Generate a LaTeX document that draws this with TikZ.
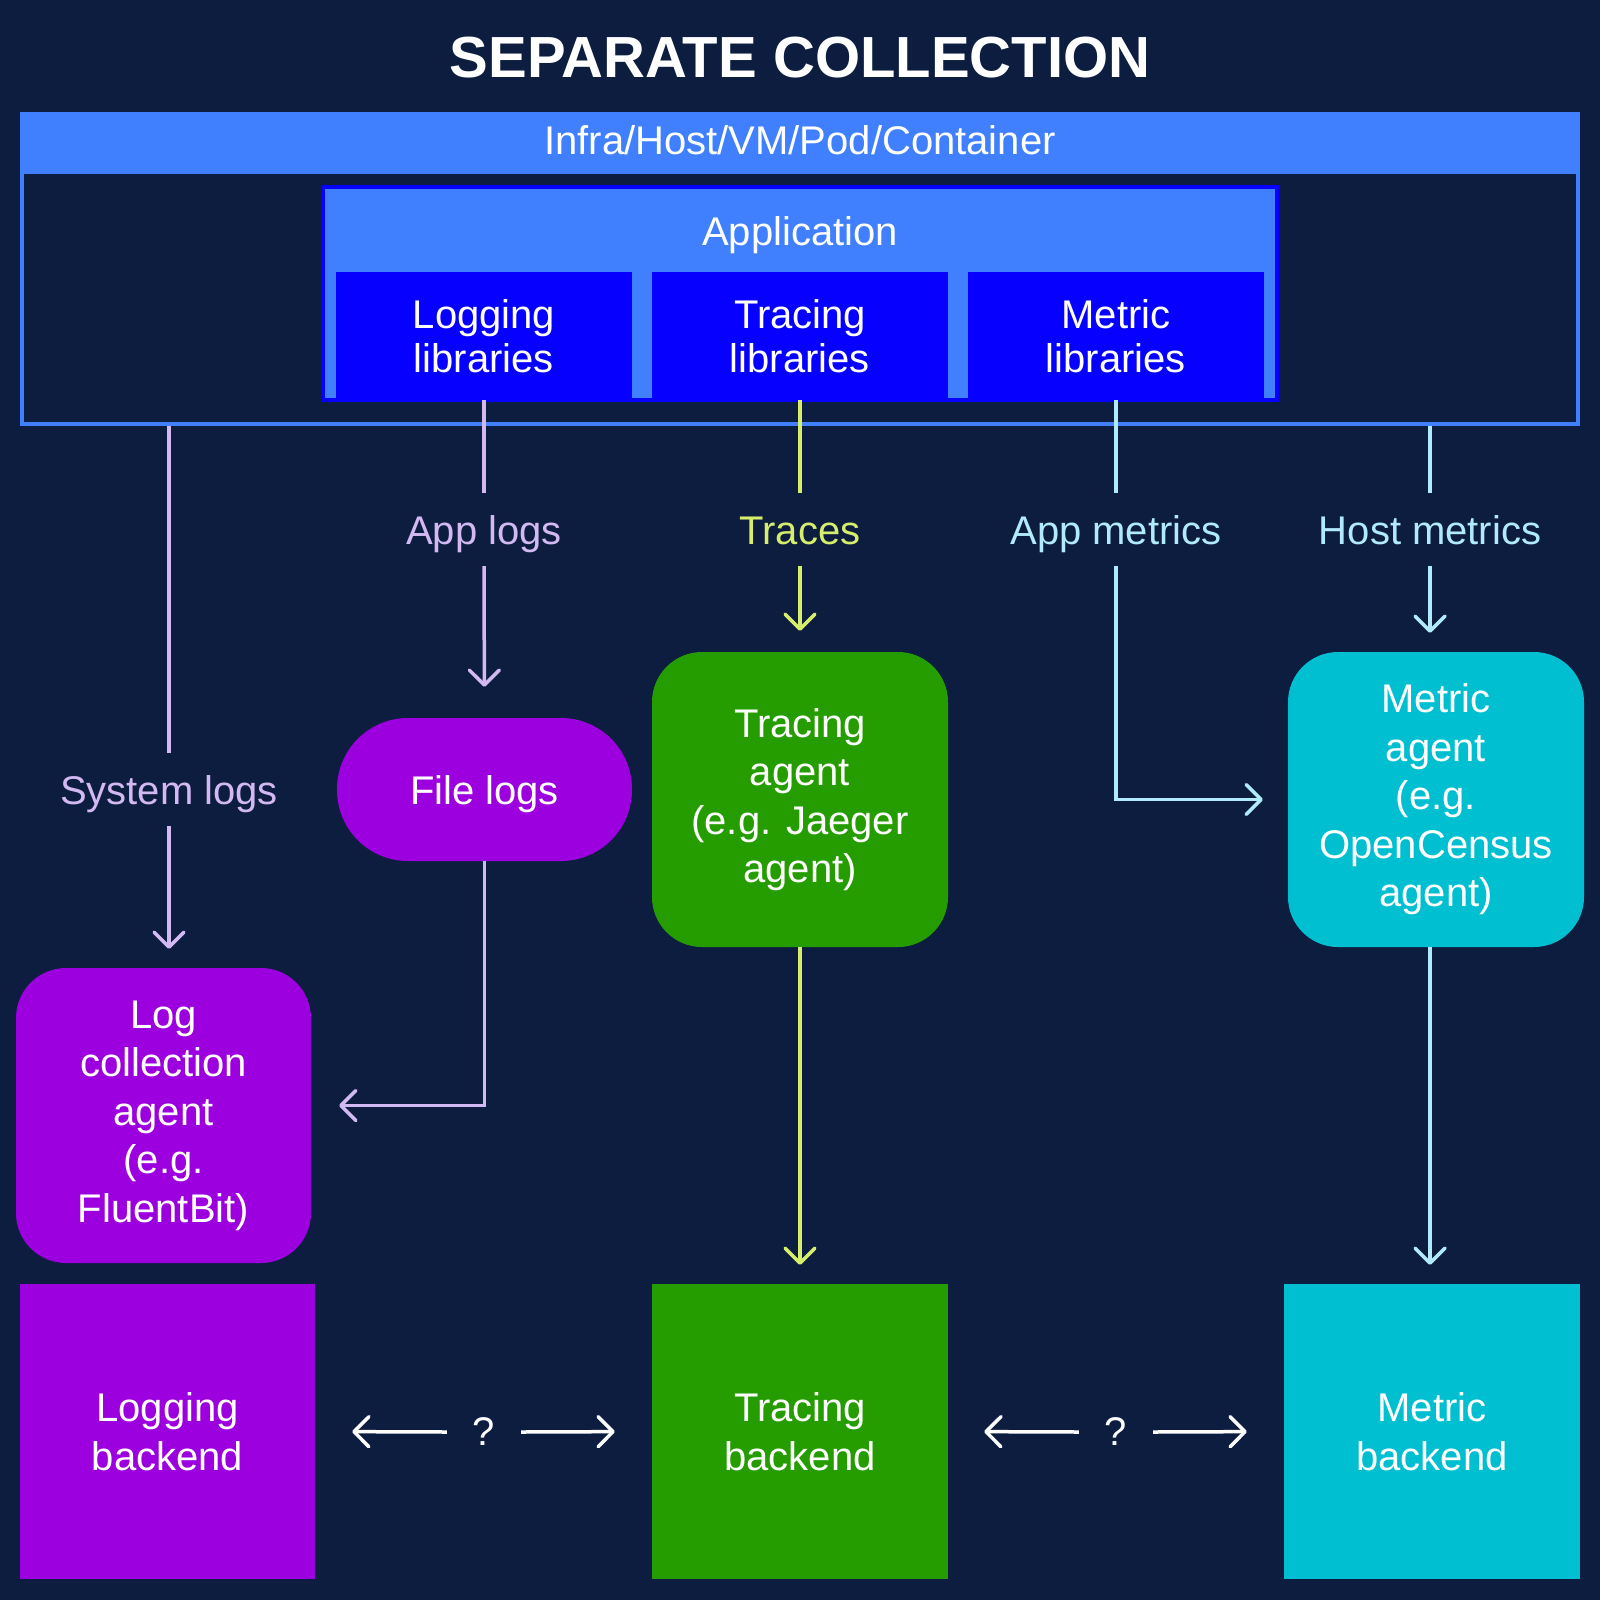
\documentclass[tikz,border=0pt]{standalone}
\usepackage{fontspec}
\setmainfont{Liberation Sans}
\usetikzlibrary{positioning, arrows.meta}
\definecolor{navy}{RGB}{13,29,64}
\definecolor{hostblue}{RGB}{64,128,255}
\definecolor{appblue}{RGB}{5,0,255}
\definecolor{logpurple}{RGB}{157,0,223}
\definecolor{tracegreen}{RGB}{37,157,0}
\definecolor{metriccyan}{RGB}{0,191,208}
\definecolor{lilac}{RGB}{211,185,242}
\definecolor{lime}{RGB}{214,238,107}
\definecolor{skyline}{RGB}{176,234,252}
\newcommand{\bodyfont}{\fontsize{40}{48.5}\selectfont}

\begin{document}
\begin{tikzpicture}[x=1pt, y=-1pt,
		hostbox/.style={draw=hostblue, line width=4pt, minimum width=1556pt, minimum height=310pt, inner sep=0pt},
		band/.style={fill=hostblue, text=white, minimum width=1560pt, minimum height=62pt, inner sep=0pt, text height=28pt, text depth=6pt, font=\bodyfont},
		appbox/.style={draw=appblue, fill=hostblue, line width=4pt, minimum width=954pt, minimum height=213pt, inner sep=0pt},
		lib/.style={fill=appblue, text=white, align=center, minimum width=296pt, minimum height=128pt, inner sep=0pt, font=\fontsize{40}{44}\selectfont},
		agent/.style={rounded corners=50pt, text=white, align=center, minimum width=296pt, minimum height=295pt, inner sep=0pt, font=\bodyfont},
		backend/.style={text=white, align=center, minimum width=296pt, minimum height=295pt, inner sep=0pt, font=\bodyfont},
		lbl/.style={inner sep=0pt, minimum height=73pt, text height=29pt, text depth=0pt, font=\bodyfont},
		flow/.style={line width=3.5pt},
		>={Straight Barb[length=15pt, width=30pt, round]}
		]
		\fill[navy] (0,0) rectangle (1600,1600);
		\useasboundingbox (0,0) rectangle (1600,1600);
		
		\node[text=white, font=\fontsize{58}{60}\selectfont\bfseries] (title) at (800, 58) {SEPARATE COLLECTION};
		\node[hostbox] (host) at (800, 269) {};
		\node[band] (infra) at (800, 143) {Infra/Host/VM/Pod/Container};
		\node[appbox] (app) at (800, 293) {};
		\node[text=white, font=\bodyfont, text height=28pt, text depth=0pt, inner sep=0pt] (apptitle) at (800, 231) {Application};
		\foreach \name/\txt [count=\i] in {loglib/Logging, tracelib/Tracing, metriclib/Metric}
		\node[lib] (\name) at (484+316*\i-316, 336) {\txt\\libraries};
		
		\node[lbl, text=lilac] (syslbl) at (169, 789.5) {System logs};
		\node[lbl, text=lilac] (applbl) at (484, 529.5) {App logs};
		\node[lbl, text=lime] (trclbl) at (800, 529.5) {Traces};
		\node[lbl, text=skyline] (amlbl) at (1116, 529.5) {App metrics};
		\node[lbl, text=skyline] (hmlbl) at (1430, 529.5) {Host metrics};
		
		\node[agent, fill=logpurple, rounded corners=71pt, minimum width=295pt, minimum height=143pt, text height=29pt, text depth=0pt] (flogs) at (484.5, 789.5) {File logs};
		\node[agent, fill=tracegreen] (tagent) at (800, 799.5) {Tracing\\agent\\(e.g. Jaeger\\agent)};
		\node[agent, fill=metriccyan] (magent) at (1436, 799.5) {Metric\\agent\\(e.g.\\OpenCensus\\agent)};
		\node[agent, fill=logpurple, minimum width=295pt] (lagent) at (163.5, 1115.5) {Log\\collection\\agent\\(e.g.\\FluentBit)};
		
		\node[backend, fill=logpurple, minimum width=295pt] (lback) at (167.5, 1431.5) {Logging\\backend};
		\node[backend, fill=tracegreen] (tback) at (800, 1431.5) {Tracing\\backend};
		\node[backend, fill=metriccyan] (mback) at (1432, 1431.5) {Metric\\backend};
		\node[text=white, font=\bodyfont, minimum width=74pt, inner sep=0pt] (q1) at (484, 1432) {?};
		\node[text=white, font=\bodyfont, minimum width=74pt, inner sep=0pt] (q2) at (1116, 1432) {?};
		
		\draw[flow, lilac] (syslbl.north |- host.south) -- (syslbl.north);
		\draw[flow, lilac, ->, shorten >=19pt] (syslbl.south) -- (syslbl.south |- lagent.north);
		\draw[flow, lilac] (loglib.south) -- (applbl.north);
		\draw[flow, lilac, ->, shorten >=31pt] (applbl.south) -- (flogs.north);
		\draw[flow, lilac, ->, shorten >=28pt] (flogs.south) |- ([yshift=10pt]lagent.east);
		\draw[flow, lime] (tracelib.south) -- (trclbl.north);
		\draw[flow, lime, ->, shorten >=21pt] (trclbl.south) -- (tagent.north);
		\draw[flow, lime, ->, shorten >=19pt] (tagent.south) -- (tback.north);
		\draw[flow, skyline] (metriclib.south) -- (amlbl.north);
		\draw[flow, skyline, ->, shorten >=25pt] (amlbl.south) |- (magent.west);
		\draw[flow, skyline] (hmlbl.north |- host.south) -- (hmlbl.north);
		\draw[flow, skyline, ->, shorten >=19pt] (hmlbl.south) -- (hmlbl.south |- magent.north);
		\draw[flow, skyline, ->, shorten >=19pt] (hmlbl.south |- magent.south) -- (hmlbl.south |- mback.north);
		
		\draw[flow, white, ->, shorten >=37pt] (q1.west) -- (lback.east);
		\draw[flow, white, ->, shorten >=37pt] (q1.east) -- (tback.west);
		\draw[flow, white, ->, shorten >=36pt] (q2.west) -- (tback.east);
		\draw[flow, white, ->, shorten >=37pt] (q2.east) -- (mback.west);
\end{tikzpicture}
\end{document}
